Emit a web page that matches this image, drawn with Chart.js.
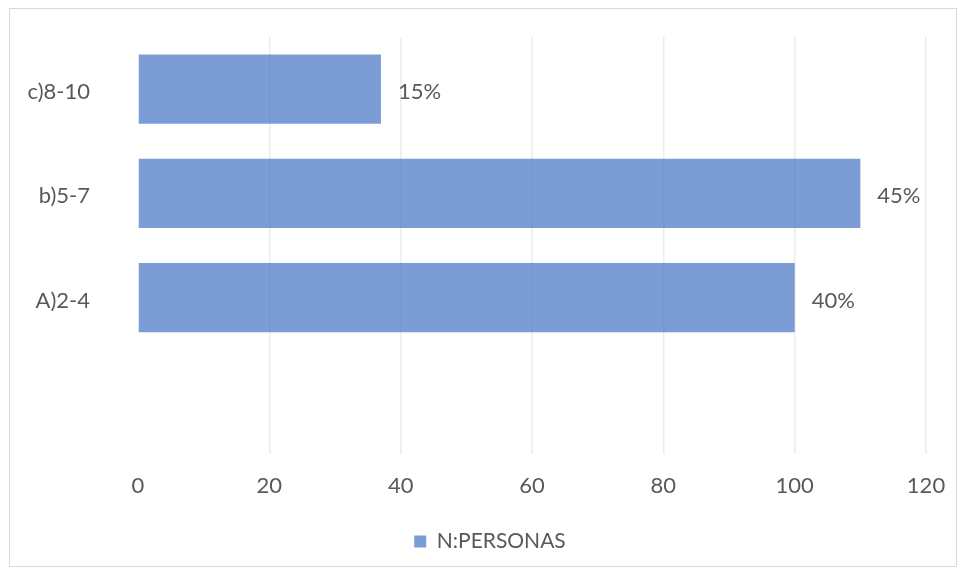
<!DOCTYPE html>
<html>
<head>
<meta charset="utf-8">
<script src="https://cdn.jsdelivr.net/npm/chart.js@4/dist/chart.umd.min.js"></script>
<style>
    html, body { margin: 0; padding: 0; background: #fff; }
    #marco {
        position: absolute; left: 9px; top: 8px;
        width: 948px; height: 559px;
        border: 1px solid #d9d9d9; box-sizing: border-box;
    }
    #lienzo { position: absolute; left: 0; top: 0; }
</style>
</head>
<body>
<div id="marco"></div>
<canvas id="lienzo" width="961" height="572"></canvas>
<script>
// Datos del grafico
const categorias = ["c)8-10", "b)5-7", "A)2-4", ""];
const personas = [37, 110, 100, null];
const porcentajes = ["15%", "45%", "40%", ""];
const serie = "N:PERSONAS";

const colorTexto = "#595959";
const fuente = "Lato, 'Open Sans', sans-serif";

// etiquetas a la derecha de cada barra
const etiquetasBarra = {
    id: "etiquetasBarra",
    afterDatasetsDraw(chart) {
        const ctx = chart.ctx;
        const meta = chart.getDatasetMeta(0);
        ctx.save();
        ctx.fillStyle = colorTexto;
        ctx.font = "22px " + fuente;
        ctx.textAlign = "left";
        ctx.textBaseline = "middle";
        meta.data.forEach((barra, i) => {
            if (personas[i] == null) return;
            ctx.fillText(porcentajes[i], barra.x + 17, barra.y + 3);
        });
        ctx.restore();
    }
};

// la leyenda va centrada un poco a la derecha
const moverLeyenda = {
    id: "moverLeyenda",
    afterLayout(chart) {
        if (!chart.legend) return;
        chart.legend.left += 27;
        chart.legend.right += 27;
    }
};

new Chart(document.getElementById("lienzo"), {
    type: "bar",
    data: {
        labels: categorias,
        datasets: [{
            label: serie,
            data: personas,
            backgroundColor: "rgba(68,114,196,0.7)",
            borderWidth: 0,
            categoryPercentage: 1,
            barPercentage: 0.665
        }]
    },
    options: {
        indexAxis: "y",
        responsive: false,
        animation: false,
        layout: { padding: { top: 37, right: 35, bottom: 10, left: 0 } },
        scales: {
            x: {
                min: 0,
                max: 120,
                ticks: {
                    stepSize: 20,
                    color: colorTexto,
                    font: { family: fuente, size: 22 },
                    padding: 19
                },
                grid: {
                    color: c => c.tick && c.tick.value === 0 ? "rgba(0,0,0,0)" : "#ececec",
                    lineWidth: 1.5,
                    drawTicks: false
                },
                border: { display: false },
                afterFit(escala) {
                    escala.height = 69;
                    escala.paddingLeft = 0;
                    escala.paddingRight = 0;
                }
            },
            y: {
                ticks: {
                    color: colorTexto,
                    font: { family: fuente, size: 22 },
                    padding: 48,
                    labelOffset: 3
                },
                grid: { display: false, drawTicks: false },
                border: { display: false },
                afterFit(escala) {
                    escala.width = 138;
                    escala.paddingTop = 0;
                    escala.paddingBottom = 0;
                }
            }
        },
        plugins: {
            legend: {
                position: "bottom",
                labels: {
                    color: colorTexto,
                    font: { family: fuente, size: 21 },
                    usePointStyle: true,
                    pointStyle: "rect",
                    boxWidth: 12,
                    boxHeight: 12,
                    padding: 8
                }
            },
            tooltip: { enabled: false }
        }
    },
    plugins: [etiquetasBarra, moverLeyenda]
});
</script>
</body>
</html>
